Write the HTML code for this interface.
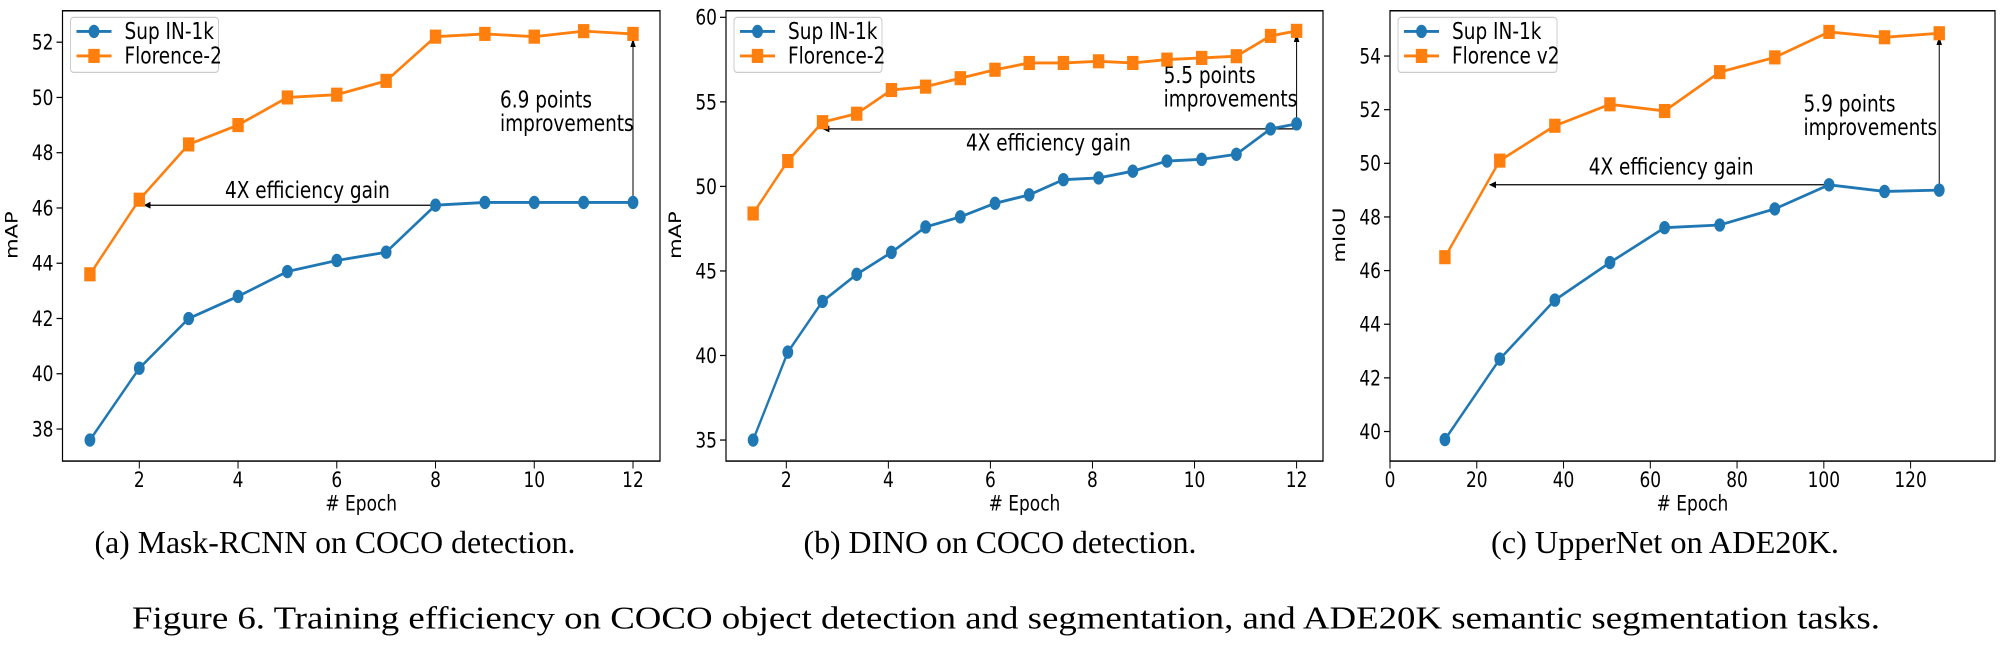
<!DOCTYPE html>
<html><head><meta charset="utf-8"><style>html,body{margin:0;padding:0;background:#fff}svg{display:block}</style></head>
<body>
<svg id="fig" width="2012" height="660" viewBox="0 0 2012 533.5" preserveAspectRatio="none" xmlns="http://www.w3.org/2000/svg" font-family="'DejaVu Sans', sans-serif">
<defs><marker id="ah" viewBox="0 0 10 10" refX="9" refY="5" markerWidth="7" markerHeight="7" orient="auto-start-reverse"><path d="M0,1 L10,5 L0,9 z" fill="#000"/></marker></defs>
</svg>
<script>
// Panel (a)
const aEpochs = [1,2,3,4,5,6,7,8,9,10,11,12];
const aSup = [37.6,40.2,42.0,42.8,43.7,44.1,44.4,46.1,46.2,46.2,46.2,46.2];
const aFlo = [43.6,46.3,48.3,49.0,50.0,50.1,50.6,52.2,52.3,52.2,52.4,52.3];
const aXTicks = [2,4,6,8,10,12];
const aYTicks = [38,40,42,44,46,48,50,52];
// Panel (b)
const bEpochs = [1.35,2.03,2.71,3.38,4.06,4.73,5.41,6.09,6.76,7.43,8.12,8.79,9.46,10.14,10.82,11.49,12];
const bSup = [35.0,40.2,43.2,44.8,46.1,47.6,48.2,49.0,49.5,50.4,50.5,50.9,51.5,51.6,51.9,53.4,53.7];
const bFlo = [48.4,51.5,53.8,54.3,55.7,55.9,56.4,56.9,57.3,57.3,57.4,57.3,57.5,57.6,57.7,58.9,59.2];
const bXTicks = [2,4,6,8,10,12];
const bYTicks = [35,40,45,50,55,60];
// Panel (c)
const cEpochs = [12.66,25.3,38,50.7,63.3,76,88.7,101.2,114,126.6];
const cSup = [39.7,42.7,44.9,46.3,47.6,47.7,48.3,49.2,48.95,49.0];
const cFlo = [46.5,50.1,51.4,52.2,51.95,53.4,53.95,54.9,54.7,54.85];
const cXTicks = [0,20,40,60,80,100,120];
const cYTicks = [40,42,44,46,48,50,52,54];

const NS="http://www.w3.org/2000/svg";
const svg=document.getElementById('fig');
function mk(tag,attrs,parent,text){const e=document.createElementNS(NS,tag);for(const k in attrs)e.setAttribute(k,attrs[k]);if(text!==undefined)e.textContent=text;(parent||svg).appendChild(e);return e;}

function panel(p){
  const g=mk('g',{});
  
  
  const sx=v=>p.x0px+(v-p.x0v)*(p.x1px-p.x0px)/(p.x1v-p.x0v);
  const sy=v=>p.y0px+(v-p.y0v)*(p.y1px-p.y0px)/(p.y1v-p.y0v);
  p.xt.forEach(t=>{const x=sx(t);
    const l=mk('line',{x1:x,x2:x,y1:p.bottom,y2:p.bottom+6,stroke:'#000','stroke-width':1},g);
    
    const tx=mk('text',{x:x,y:p.bottom+21,'text-anchor':'middle','font-size':17},g,String(t));
    });
  p.yt.forEach(t=>{const y=sy(t);
    const l=mk('line',{x1:p.left-6,x2:p.left,y1:y,y2:y,stroke:'#000','stroke-width':1},g);
    
    const tx=mk('text',{x:p.left-9,y:y+6,'text-anchor':'end','font-size':17},g,String(t));
    });
  const xl=mk('text',{x:(p.left+p.right)/2,y:p.bottom+40,'text-anchor':'middle','font-size':17},g,'# Epoch');
  
  const yl=mk('text',{x:0,y:0,'text-anchor':'middle','font-size':17,transform:`translate(${p.left-45},190) rotate(-90)`},g,p.ylabel);
  
  // annotations
  const ha=mk('line',{x1:sx(p.hFrom),y1:sy(p.hY),x2:sx(p.hTo),y2:sy(p.hY),stroke:'#000','stroke-width':1,'marker-end':'url(#ah)'},g);
  
  const va=mk('line',{x1:sx(p.vX),y1:sy(p.vFrom),x2:sx(p.vX),y2:sy(p.vTo),stroke:'#000','stroke-width':1,'marker-end':'url(#ah)'},g);
  
  const et=mk('text',{x:p.effX,y:p.effY,'font-size':18.5},g,'4X efficiency gain');
  
  const it=mk('text',{x:p.impX,y:p.impY,'font-size':18.5},g);
  
  mk('tspan',{x:p.impX},it,p.imp);mk('tspan',{x:p.impX,dy:19},it,'improvements');
  // series
  const series=[[p.sup,'#1f77b4','circle','sup-in1k-series'],[p.flo,'#ff7f0e','square','florence-series']];
  series.forEach(([vals,col,shape,name])=>{
    const pts=vals.map((v,i)=>sx(p.xs[i])+','+sy(v)).join(' ');
    const pl=mk('polyline',{points:pts,fill:'none',stroke:col,'stroke-width':2.3},g);
    
    vals.forEach((v,i)=>{const x=sx(p.xs[i]),y=sy(v);let m;
      if(shape==='circle')m=mk('circle',{cx:x,cy:y,r:5.4,fill:col},g);
      else m=mk('rect',{x:x-5.7,y:y-5.7,width:11.4,height:11.4,fill:col},g);
      });
  });
  const fr=mk('rect',{x:p.left,y:8.7,width:p.right-p.left,height:p.bottom-8.7,fill:'none',stroke:'#000','stroke-width':1.2},g);
  
  // legend
  const lg=mk('g',{},g);
  
  mk('rect',{x:p.left+8,y:14,width:p.legW,height:44.5,rx:3,fill:'#fff',stroke:'#ccc','stroke-width':1},lg);
  [[25.4,'#1f77b4','circle',p.lab1],[45.2,'#ff7f0e','square',p.lab2]].forEach(([y,col,sh,lab])=>{
    const x0=p.left+14;
    mk('line',{x1:x0,x2:x0+35,y1:y,y2:y,stroke:col,'stroke-width':2.3},lg);
    if(sh==='circle')mk('circle',{cx:x0+17.5,cy:y,r:5.4,fill:col},lg);else mk('rect',{x:x0+11.8,y:y-5.7,width:11.4,height:11.4,fill:col},lg);
    const t=mk('text',{x:x0+48,y:y+6,'font-size':18.5},lg,lab);
    
  });
  const cap=mk('text',{x:p.capX,y:447,'text-anchor':'middle','font-size':26,'font-family':"'Liberation Serif', serif",textLength:p.capW,lengthAdjust:'spacingAndGlyphs'},g,p.cap);
  
}

panel({id:'mask-rcnn',left:62.5,right:660,bottom:372.7,x0v:2,x0px:139.3,x1v:12,x1px:633,y0v:52,y0px:34.1,y1v:38,y1px:346.8,
  xs:aEpochs,sup:aSup,flo:aFlo,xt:aXTicks,yt:aYTicks,ylabel:'mAP',hFrom:8,hTo:2.1,hY:46.1,vX:12,vFrom:46.2,vTo:52.1,
  effX:225,effY:160,impX:500,impY:87,imp:'6.9 points',legW:148,lab1:'Sup IN-1k',lab2:'Florence-2',cap:'(a) Mask-RCNN on COCO detection.',capX:335,capW:481});
panel({id:'dino',left:726,right:1323,bottom:372.7,x0v:2,x0px:786.3,x1v:12,x1px:1296.6,y0v:60,y0px:14.0,y1v:35,y1px:355.7,
  xs:bEpochs,sup:bSup,flo:bFlo,xt:bXTicks,yt:bYTicks,ylabel:'mAP',hFrom:12,hTo:2.72,hY:53.4,vX:12,vFrom:53.9,vTo:59.0,
  effX:966,effY:121.5,impX:1163.6,impY:67,imp:'5.5 points',legW:148,lab1:'Sup IN-1k',lab2:'Florence-2',cap:'(b) DINO on COCO detection.',capX:1000,capW:393});
panel({id:'uppernet',left:1390,right:1995,bottom:372.7,x0v:0,x0px:1390,x1v:120,x1px:1910.6,y0v:54,y0px:45.3,y1v:40,y1px:348.8,
  xs:cEpochs,sup:cSup,flo:cFlo,xt:cXTicks,yt:cYTicks,ylabel:'mIoU',hFrom:101.2,hTo:23,hY:49.2,vX:126.6,vFrom:49.0,vTo:54.7,
  effX:1588.7,effY:141,impX:1803.5,impY:90,imp:'5.9 points',legW:159,lab1:'Sup IN-1k',lab2:'Florence v2',cap:'(c) UpperNet on ADE20K.',capX:1665,capW:348});
const fc=mk('text',{x:1006,y:508,'text-anchor':'middle','font-size':26,'font-family':"'Liberation Serif', serif",textLength:1748,lengthAdjust:'spacingAndGlyphs'},svg,'Figure 6. Training efficiency on COCO object detection and segmentation, and ADE20K semantic segmentation tasks.');


</script>
</body></html>
